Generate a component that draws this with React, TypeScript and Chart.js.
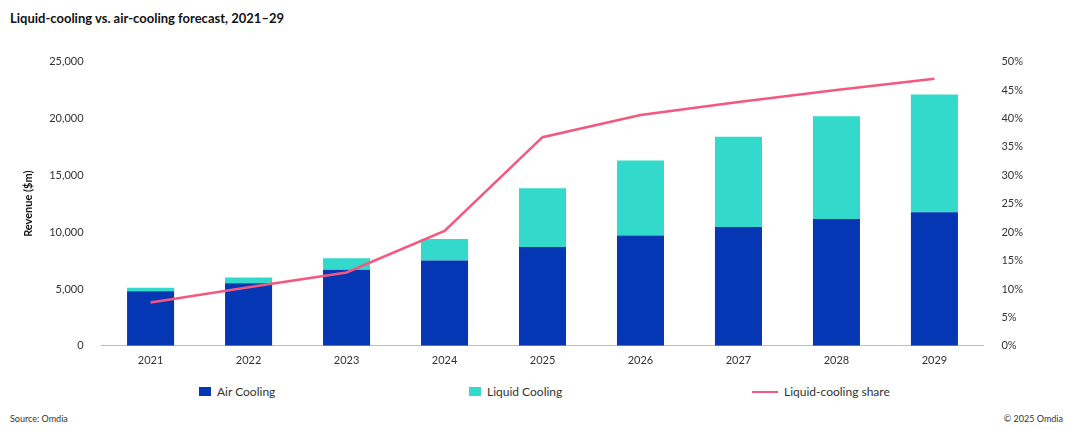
import React, { useEffect, useRef } from "react";
import { Chart, registerables } from "chart.js";
Chart.register(...registerables);

const years = ["2021", "2022", "2023", "2024", "2025", "2026", "2027", "2028", "2029"];
const airCooling = [4800, 5500, 6700, 7500, 8700, 9700, 10450, 11150, 11750];
const liquidCooling = [300, 500, 1000, 1900, 5150, 6600, 7950, 9050, 10350];
const liquidShare = [7.6, 10.3, 12.9, 20.2, 36.7, 40.6, 42.9, 45.0, 47.0];

const AIR = "#0537b4";
const LIQ = "#33d9ca";
const LINE = "#f5587f";
const FONT = "Lato, 'Open Sans', sans-serif";

export default function App() {
  const ref = useRef<HTMLCanvasElement>(null);
  useEffect(() => {
    const chart = new Chart(ref.current!, {
      type: "bar",
      data: {
        labels: years,
        datasets: [
          { type: "line", label: "Liquid-cooling share", data: liquidShare, yAxisID: "y1", borderColor: LINE, backgroundColor: LINE, borderWidth: 2.5, pointRadius: 0, tension: 0, order: 0 },
          { label: "Air Cooling", data: airCooling, backgroundColor: AIR, stack: "s", order: 1 },
          { label: "Liquid Cooling", data: liquidCooling, backgroundColor: LIQ, stack: "s", order: 1 },
        ],
      },
      options: {
        animation: false,
        responsive: false,
        layout: { padding: { left: 18, right: 40, top: 10, bottom: 0 } },
        datasets: { bar: { barPercentage: 0.48, categoryPercentage: 1 } },
        plugins: { legend: { display: false }, tooltip: { enabled: false } },
        scales: {
          x: {
            stacked: true,
            grid: { display: false, drawTicks: false },
            border: { color: "#bfbfbf" },
            ticks: { color: "#333", font: { family: FONT, size: 11 }, padding: 8 },
          },
          y: {
            stacked: true,
            min: 0, max: 25000,
            ticks: { stepSize: 5000, color: "#333", font: { family: FONT, size: 11 }, padding: 10, callback: (v: any) => Number(v).toLocaleString("en-US") },
            grid: { display: false },
            border: { display: false },
            title: { display: true, text: "Revenue ($m)", color: "#111", font: { family: FONT, size: 11, weight: "bold" } },
          },
          y1: {
            position: "right",
            min: 0, max: 50,
            ticks: { stepSize: 5, color: "#333", font: { family: FONT, size: 11 }, padding: 10, callback: (v: any) => v + "%" },
            grid: { display: false },
            border: { display: false },
          },
        },
      },
    });
    return () => chart.destroy();
  }, []);

  const legendItem = (left: number, color: string, text: string, line = false) => (
    <div style={{ position: "absolute", left, top: 384, display: "flex", alignItems: "center", fontSize: 12, color: "#333" }}>
      <span style={{ display: "inline-block", width: line ? 26 : 12, height: line ? 2 : 9, background: color, marginRight: 6 }} />
      {text}
    </div>
  );

  return (
    <div style={{ position: "absolute", left: 0, top: 0, width: 1073, height: 430, background: "#fff", fontFamily: FONT, overflow: "hidden" }}>
      <div style={{ position: "absolute", left: 10, top: 10, fontSize: 13, fontWeight: "bold", color: "#111" }}>
        Liquid-cooling vs. air-cooling forecast, 2021–29
      </div>
      <canvas ref={ref} width={1073} height={330} style={{ position: "absolute", left: 0, top: 45 }} />
      {legendItem(199, AIR, "Air Cooling")}
      {legendItem(469, LIQ, "Liquid Cooling")}
      {legendItem(752, LINE, "Liquid-cooling share", true)}
      <div style={{ position: "absolute", left: 10, top: 413, fontSize: 9, color: "#333" }}>Source: Omdia</div>
      <div style={{ position: "absolute", right: 10, top: 413, fontSize: 9, color: "#333" }}>© 2025 Omdia</div>
    </div>
  );
}
